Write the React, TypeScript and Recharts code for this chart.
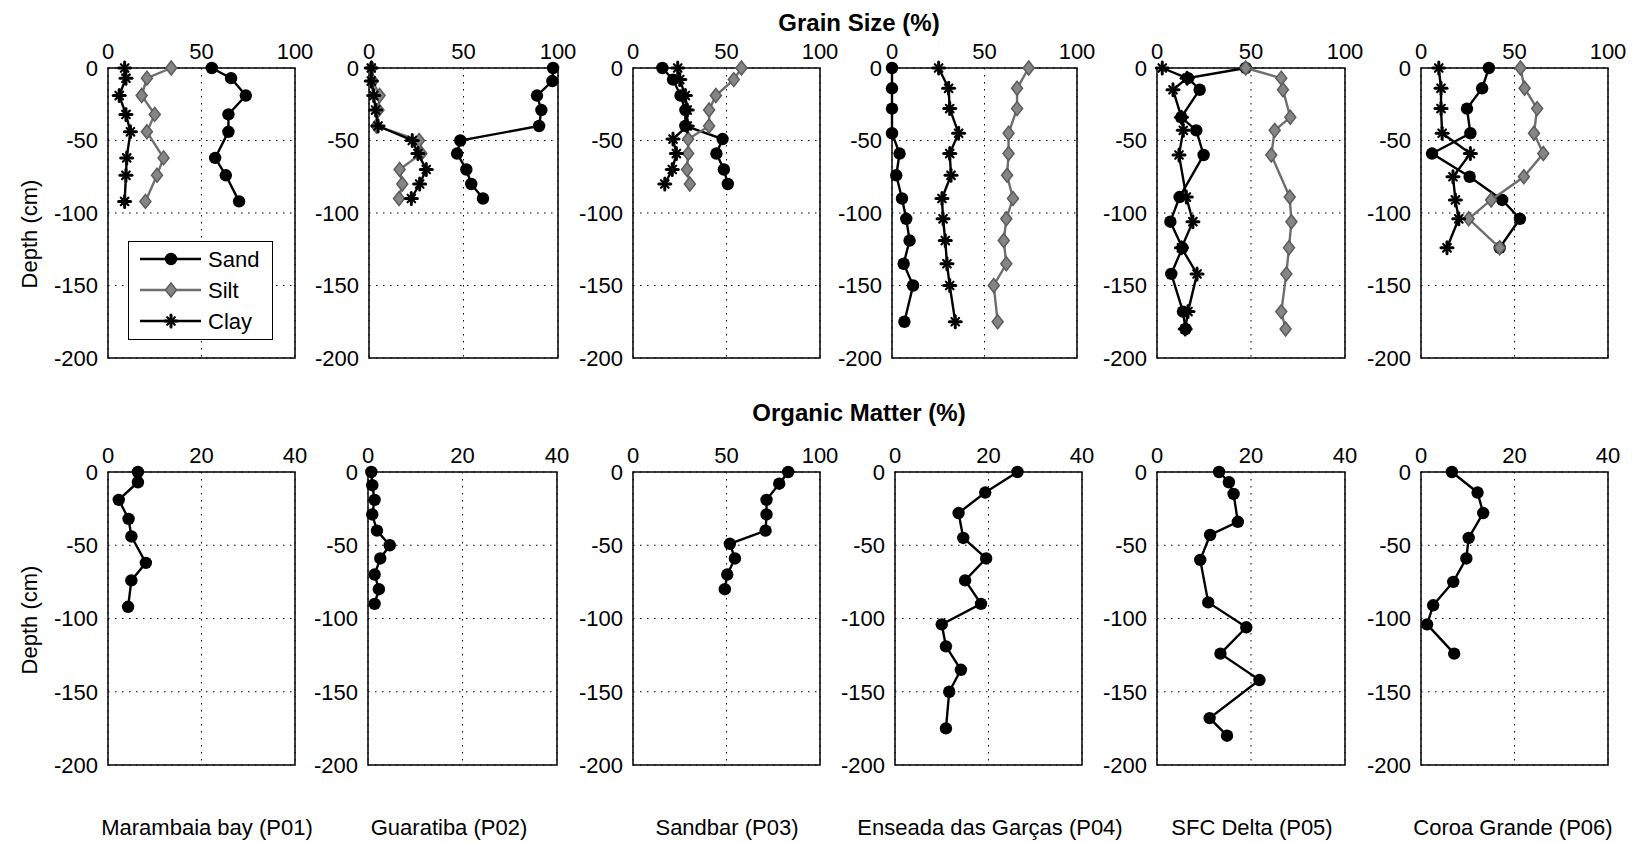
import React from 'react';
import { ScatterChart, Scatter, XAxis, YAxis, CartesianGrid, ReferenceArea, Legend } from 'recharts';

// tick labels
const depthTicks = [-200, -150, -100, -50, 0];
const grainTicks = [0, 50, 100];
const omTicks40 = [0, 20, 40];
const omTicks100 = [0, 50, 100];

const stationNames = [
  'Marambaia bay (P01)',
  'Guaratiba (P02)',
  'Sandbar (P03)',
  'Enseada das Garças (P04)',
  'SFC Delta (P05)',
  'Coroa Grande (P06)',
];

// P01 Marambaia bay
const p01Depth = [0, -7, -19, -32, -44, -62, -74, -92];
const p01Sand = [55.5, 65.8, 73.7, 64.4, 64.4, 57.3, 63, 70.1];
const p01Silt = [33.8, 20.8, 18, 25, 20.8, 29.7, 26.2, 20];
const p01Clay = [8.9, 9.6, 6, 9.6, 12, 10, 9.6, 8.9];
const p01Om = [6.4, 6.4, 2.3, 4.4, 5, 8.1, 5, 4.3];

// P02 Guaratiba
const p02Depth = [0, -9, -19, -29, -40, -50, -59, -70, -80, -90];
const p02Sand = [97.4, 97, 88.9, 91.2, 90, 48.3, 46.6, 51.5, 54.1, 60.3];
const p02Silt = [1.4, 2, 5.6, 5, 3.9, 26.5, 27.7, 16.2, 17.6, 15.9];
const p02Clay = [1.2, 1.2, 2.5, 3.5, 4.8, 22.9, 25.9, 30.3, 26.8, 22.4];
const p02Om = [0.7, 0.9, 1.4, 0.9, 1.9, 4.6, 2.6, 1.4, 2.3, 1.4];

// P03 Sandbar
const p03Depth = [0, -8, -19, -29, -40, -49, -59, -70, -80];
const p03Sand = [15.7, 21.4, 25.4, 28, 28, 47.9, 44.6, 48.6, 50.7];
const p03Silt = [58, 53.9, 44.3, 40.7, 40.7, 29.5, 29.5, 28.9, 30.4];
const p03Clay = [23.9, 25, 28, 29, 29, 21.4, 23.2, 21, 17];
const p03Om = [83, 78.2, 71.4, 71.4, 70.9, 51.8, 54.5, 50.4, 49.1];

// P04 Enseada das Garças
const p04Depth = [0, -14, -28, -45, -59, -74, -90, -104, -119, -135, -150, -175];
const p04Sand = [0, 0, 0, 0, 4.1, 2.3, 5.4, 7.7, 9.5, 6.3, 11.4, 6.7];
const p04Silt = [73.9, 67.6, 67.6, 63, 63, 62.2, 65.4, 61.8, 60.4, 61.8, 55, 57.1];
const p04Clay = [25.2, 30.6, 31.2, 36, 31.2, 31.9, 27, 27.6, 28.8, 29.7, 31.2, 34.2];
const p04Om = [26.2, 19.3, 13.6, 14.6, 19.5, 15, 18.4, 10, 10.9, 14.1, 11.6, 10.9];

// P05 SFC Delta
const p05Depth = [0, -7, -15, -34, -43, -60, -89, -106, -124, -142, -168, -180];
const p05Sand = [47.2, 16.5, 22.7, 12.9, 20.9, 24.8, 12, 7.1, 13.5, 7.6, 13.8, 15.2];
const p05Silt = [47.2, 66.1, 67, 70.9, 62.6, 60.8, 70.6, 71.5, 70.2, 68.8, 66.1, 68.4];
const p05Clay = [2.8, 16, 8.5, 13, 14, 11.7, 15.6, 19.1, 13, 21.3, 16.5, 15];
const p05Om = [13.2, 15.3, 16.3, 17.2, 11.3, 9.2, 10.9, 19, 13.5, 21.8, 11.2, 14.9];

// P06 Coroa Grande
const p06Depth = [0, -14, -28, -45, -59, -75, -91, -104, -124];
const p06Sand = [36.3, 32.7, 24.6, 26.4, 5.9, 26, 43.4, 52.9, 42.1];
const p06Silt = [53.2, 55.4, 62.1, 60.4, 65.4, 55, 37.5, 25.5, 42.1];
const p06Clay = [9.5, 10.7, 10.7, 11.3, 26.4, 17.1, 18.4, 20.2, 13.9];
const p06Om = [6.6, 12.1, 13.3, 10.2, 9.7, 6.9, 2.6, 1.3, 7.1];

const FONT = '"Liberation Sans", Arial, Helvetica, sans-serif';
const YW = 60;
const XH = 30;
const PAD_R = 30;
const PAD_B = 18;

const toPoints = (depths: number[], values: number[]) =>
  depths.map((d, i) => ({ x: values[i], y: d }));

// markers
const CircleMark = (p: any) => <circle cx={p.cx} cy={p.cy} r={6.2} fill="#000" />;
const DiamondMark = (p: any) => (
  <path
    d={`M${p.cx},${p.cy - 7}L${p.cx + 5.5},${p.cy}L${p.cx},${p.cy + 7}L${p.cx - 5.5},${p.cy}Z`}
    fill="#858585"
    stroke="#5c5c5c"
    strokeWidth={1.5}
  />
);
const StarMark = (p: any) => (
  <g stroke="#000" strokeLinecap="round">
    <line x1={p.cx - 6} y1={p.cy} x2={p.cx + 6} y2={p.cy} strokeWidth={3} />
    <line x1={p.cx} y1={p.cy - 6} x2={p.cx} y2={p.cy + 6} strokeWidth={3} />
    <line x1={p.cx - 3.8} y1={p.cy - 3.8} x2={p.cx + 3.8} y2={p.cy + 3.8} strokeWidth={2.2} />
    <line x1={p.cx - 3.8} y1={p.cy + 3.8} x2={p.cx + 3.8} y2={p.cy - 3.8} strokeWidth={2.2} />
  </g>
);

const seriesStyle: Record<string, { mark: any; stroke: string }> = {
  Sand: { mark: CircleMark, stroke: '#000' },
  Silt: { mark: DiamondMark, stroke: '#6e6e6e' },
  Clay: { mark: StarMark, stroke: '#000' },
  OM: { mark: CircleMark, stroke: '#000' },
};

const GrainLegend = () => (
  <div style={{ width: 145, height: 99, border: '1.5px solid #000', background: '#fff', boxSizing: 'border-box' }}>
    <svg width={143} height={96}>
      {['Sand', 'Silt', 'Clay'].map((name, i) => {
        const y = 17 + i * 31;
        const st = seriesStyle[name];
        const Mark = st.mark;
        return (
          <g key={name}>
            <line x1={11} x2={72} y1={y} y2={y} stroke={st.stroke} strokeWidth={2.4} />
            <Mark cx={42} cy={y} />
            <text x={79} y={y + 8} fontSize={22} fontFamily={FONT} fill="#000">
              {name}
            </text>
          </g>
        );
      })}
    </svg>
  </div>
);

type PanelProps = {
  left: number;
  top: number;
  width: number;
  height: number;
  depths: number[];
  series: { name: string; values: number[] }[];
  xMax: number;
  xTicks: number[];
  legend?: boolean;
};

const tickStyle = { fill: '#000', fontSize: 22, fontFamily: FONT };

const Panel = ({ left, top, width, height, depths, series, xMax, xTicks, legend }: PanelProps) => (
  <div style={{ position: 'absolute', left: left - YW, top: top - XH }}>
    <ScatterChart
      width={width + YW + PAD_R}
      height={height + XH + PAD_B}
      margin={{ top: 0, right: PAD_R, bottom: PAD_B, left: 0 }}
      style={{ overflow: 'visible' }}
    >
      <CartesianGrid stroke="#000" strokeWidth={1} strokeDasharray="1.5 5.5" />
      <XAxis
        type="number"
        dataKey="x"
        orientation="top"
        domain={[0, xMax]}
        ticks={xTicks}
        interval={0}
        height={XH}
        axisLine={false}
        tickLine={false}
        tickSize={0}
        tickMargin={9}
        tick={tickStyle}
      />
      <YAxis
        type="number"
        dataKey="y"
        domain={[-200, 0]}
        ticks={depthTicks}
        interval={0}
        width={YW}
        axisLine={false}
        tickLine={false}
        tickSize={0}
        tickMargin={10}
        tick={tickStyle}
      />
      <ReferenceArea x1={0} x2={xMax} y1={-200} y2={0} fill="none" stroke="#000" strokeWidth={1.5} />
      {series.map((s) => (
        <Scatter
          key={s.name}
          name={s.name}
          data={toPoints(depths, s.values)}
          shape={seriesStyle[s.name].mark}
          line={{ stroke: seriesStyle[s.name].stroke, strokeWidth: 2.4 }}
          isAnimationActive={false}
        />
      ))}
      {legend && (
        <Legend
          layout="vertical"
          align="center"
          verticalAlign="middle"
          content={GrainLegend}
          wrapperStyle={{ left: 80, top: 203, width: 145, height: 99 }}
        />
      )}
    </ScatterChart>
  </div>
);

const grainData = [
  { depths: p01Depth, sand: p01Sand, silt: p01Silt, clay: p01Clay },
  { depths: p02Depth, sand: p02Sand, silt: p02Silt, clay: p02Clay },
  { depths: p03Depth, sand: p03Sand, silt: p03Silt, clay: p03Clay },
  { depths: p04Depth, sand: p04Sand, silt: p04Silt, clay: p04Clay },
  { depths: p05Depth, sand: p05Sand, silt: p05Silt, clay: p05Clay },
  { depths: p06Depth, sand: p06Sand, silt: p06Silt, clay: p06Clay },
];
const omData = [
  { depths: p01Depth, om: p01Om, xMax: 40, ticks: omTicks40 },
  { depths: p02Depth, om: p02Om, xMax: 40, ticks: omTicks40 },
  { depths: p03Depth, om: p03Om, xMax: 100, ticks: omTicks100 },
  { depths: p04Depth, om: p04Om, xMax: 40, ticks: omTicks40 },
  { depths: p05Depth, om: p05Om, xMax: 40, ticks: omTicks40 },
  { depths: p06Depth, om: p06Om, xMax: 40, ticks: omTicks40 },
];

// plot-area placement
const topLefts = [108, 369, 633, 892, 1157, 1421];
const topWidths = [187, 189, 187, 185, 188, 187];
const botLefts = [108, 368, 633, 895, 1157, 1421];
const botWidths = [187, 189, 187, 187, 188, 187];
const labelX = [207, 449, 727, 990, 1252, 1513];

export default function App() {
  return (
    <div
      style={{
        position: 'absolute',
        left: 0,
        top: 0,
        width: 1633,
        height: 843,
        background: '#fff',
        fontFamily: FONT,
        overflow: 'hidden',
      }}
    >
      {grainData.map((g, i) => (
        <Panel
          key={`g${i}`}
          left={topLefts[i]}
          top={68}
          width={topWidths[i]}
          height={290}
          depths={g.depths}
          xMax={100}
          xTicks={grainTicks}
          legend={i === 0}
          series={[
            { name: 'Sand', values: g.sand },
            { name: 'Silt', values: g.silt },
            { name: 'Clay', values: g.clay },
          ]}
        />
      ))}
      {omData.map((o, i) => (
        <Panel
          key={`o${i}`}
          left={botLefts[i]}
          top={472}
          width={botWidths[i]}
          height={293}
          depths={o.depths}
          xMax={o.xMax}
          xTicks={o.ticks}
          series={[{ name: 'OM', values: o.om }]}
        />
      ))}
      <svg
        width={1633}
        height={843}
        style={{ position: 'absolute', left: 0, top: 0, pointerEvents: 'none' }}
      >
        <text x={859} y={31} textAnchor="middle" fontSize={24} fontWeight="bold" fontFamily={FONT}>
          Grain Size (%)
        </text>
        <text x={859} y={421} textAnchor="middle" fontSize={24} fontWeight="bold" fontFamily={FONT}>
          Organic Matter (%)
        </text>
        <text
          x={0}
          y={0}
          transform="translate(37,234) rotate(-90)"
          textAnchor="middle"
          fontSize={22}
          fontFamily={FONT}
        >
          Depth (cm)
        </text>
        <text
          x={0}
          y={0}
          transform="translate(37,620) rotate(-90)"
          textAnchor="middle"
          fontSize={22}
          fontFamily={FONT}
        >
          Depth (cm)
        </text>
        {stationNames.map((n, i) => (
          <text key={n} x={labelX[i]} y={835} textAnchor="middle" fontSize={22} fontFamily={FONT}>
            {n}
          </text>
        ))}
      </svg>
    </div>
  );
}
